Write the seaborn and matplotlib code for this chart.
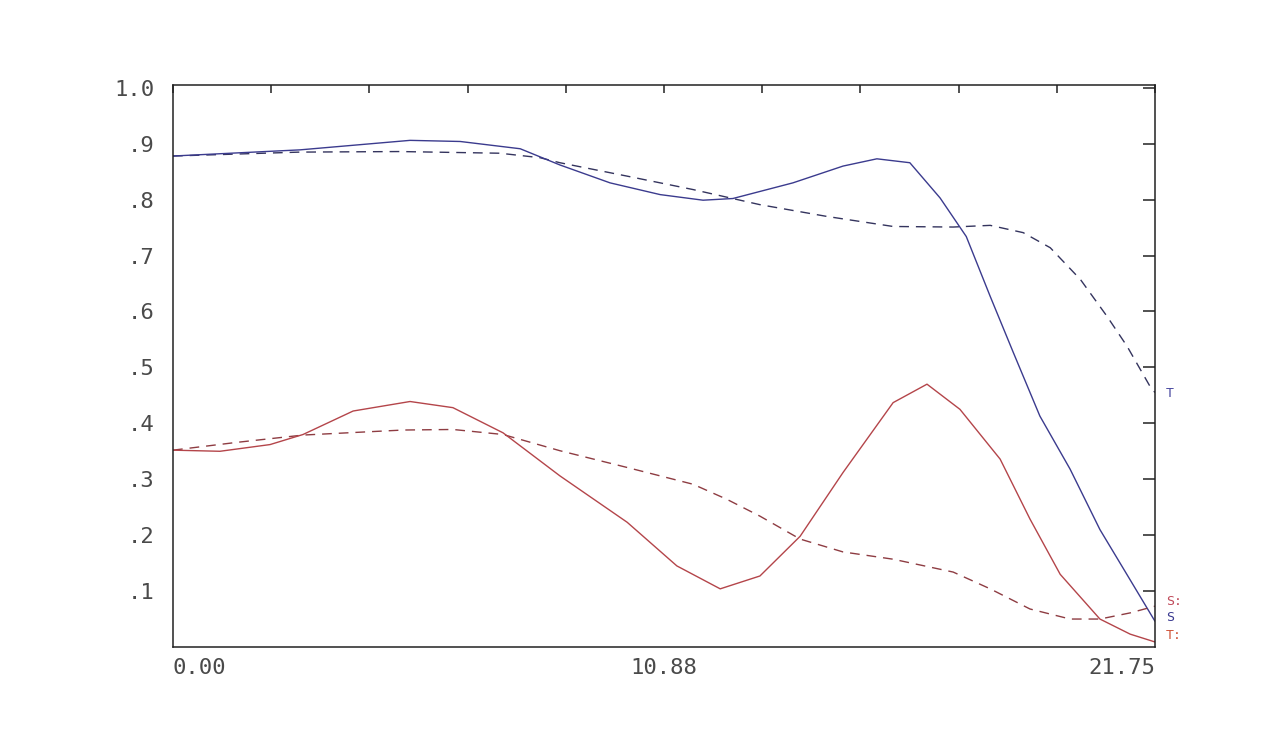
import matplotlib
matplotlib.use("Agg")
import matplotlib.pyplot as plt
import seaborn as sns
import numpy as np

# ---- data ----
s_blue_x = [0.0, 2.81, 5.25, 6.36, 7.69, 8.57, 9.68, 10.79, 11.74, 12.40, 13.73,
            14.84, 15.59, 16.32, 16.99, 17.57, 18.10, 18.61, 19.20, 19.87, 20.53, 21.20, 21.75]
s_blue_y = [0.878, 0.889, 0.906, 0.904, 0.891, 0.862, 0.830, 0.809, 0.799, 0.802, 0.830,
            0.860, 0.873, 0.866, 0.803, 0.734, 0.627, 0.527, 0.413, 0.318, 0.210, 0.120, 0.046]

t_blue_x = [0.0, 2.81, 5.03, 7.24, 8.13, 8.57, 10.06, 11.52, 13.00, 14.48, 15.95,
            17.28, 18.10, 18.83, 19.43, 20.10, 20.69, 21.13, 21.64, 21.75]
t_blue_y = [0.878, 0.885, 0.886, 0.883, 0.875, 0.866, 0.842, 0.818, 0.791, 0.770, 0.752,
            0.751, 0.754, 0.741, 0.714, 0.657, 0.591, 0.538, 0.466, 0.455]

t_red_x = [0.0, 1.04, 2.15, 2.88, 3.99, 5.25, 6.20, 7.31, 8.57, 10.06, 11.16, 12.12,
           13.00, 13.89, 14.84, 15.95, 16.70, 17.43, 18.32, 18.98, 19.65, 20.53, 21.20, 21.75]
t_red_y = [0.352, 0.350, 0.362, 0.380, 0.422, 0.439, 0.428, 0.383, 0.306, 0.223, 0.145, 0.104,
           0.127, 0.198, 0.312, 0.437, 0.470, 0.425, 0.336, 0.229, 0.130, 0.050, 0.023, 0.009]

s_red_x = [0.0, 1.42, 2.88, 5.10, 6.20, 7.31, 8.57, 10.06, 11.52, 12.27, 13.00, 13.89,
           14.84, 15.95, 17.28, 18.10, 18.98, 19.87, 20.53, 21.20, 21.75]
s_red_y = [0.352, 0.366, 0.379, 0.388, 0.389, 0.380, 0.351, 0.321, 0.291, 0.264, 0.234, 0.193,
           0.170, 0.157, 0.134, 0.104, 0.068, 0.050, 0.050, 0.061, 0.073]

y_ticks = [0.1, 0.2, 0.3, 0.4, 0.5, 0.6, 0.7, 0.8, 0.9, 1.0]
y_labels = [".1", ".2", ".3", ".4", ".5", ".6", ".7", ".8", ".9", "1.0"]
x_max = 21.75
x_label_ticks = [0.0, 10.875, 21.75]
x_labels = ["0.00", "10.88", "21.75"]

end_labels = ["T", "S:", "S", "T:"]
end_label_y = [0.454, 0.081, 0.052, 0.021]

# ---- style ----
sns.set_style("white")
plt.rcParams['font.family'] = ['DejaVu Sans Mono', 'DejaVu Sans']

BLUE = "#3b3b8e"
BLUE_D = "#34345e"
RED = "#b4454a"
RED_D = "#8e3c42"
TXT = "#4a4a4a"

fig = plt.figure(figsize=(12.8, 7.44), dpi=100)
ax = fig.add_axes([173/1280, 1 - 647/744, (1155-173)/1280, (647-85)/744])

sns.lineplot(x=t_blue_x, y=t_blue_y, ax=ax, color=BLUE_D, lw=1.0,
             linestyle=(0, (7, 5)), sort=False)
sns.lineplot(x=s_blue_x, y=s_blue_y, ax=ax, color=BLUE, lw=1.0, sort=False)
sns.lineplot(x=s_red_x, y=s_red_y, ax=ax, color=RED_D, lw=1.0,
             linestyle=(0, (7, 5)), sort=False)
sns.lineplot(x=t_red_x, y=t_red_y, ax=ax, color=RED, lw=1.0, sort=False)

ax.set_xlim(0, x_max)
ax.set_ylim(0, 1.005)

ax.set_xticks(np.linspace(0, x_max, 11), minor=True)
ax.set_xticks(x_label_ticks)
ax.set_xticklabels(x_labels)
ax.set_yticks(y_ticks)
ax.set_yticklabels(y_labels)

ax.tick_params(axis='both', which='both', direction='in', top=True, right=True,
               colors="#222222", labelcolor=TXT, width=1.1)
ax.tick_params(axis='x', which='both', length=6, pad=8, labelsize=16)
ax.tick_params(axis='y', which='both', length=9, pad=13, labelsize=16)

xl = ax.get_xticklabels()
xl[0].set_ha('left')
xl[1].set_ha('center')
xl[2].set_ha('right')

for sp in ax.spines.values():
    sp.set_color("#222222")
    sp.set_linewidth(1.1)

ax.set_xlabel("")
ax.set_ylabel("")

label_colors = ["#4a4aa0", "#c04a5a", "#3a3a90", "#d0553a"]
for txt, yv, c in zip(end_labels, end_label_y, label_colors):
    ax.text(1.011, yv, txt, transform=ax.get_yaxis_transform(), color=c,
            fontsize=9.5, va='center', ha='left', clip_on=False)

fig.savefig("out.png", dpi=100, facecolor="white")
